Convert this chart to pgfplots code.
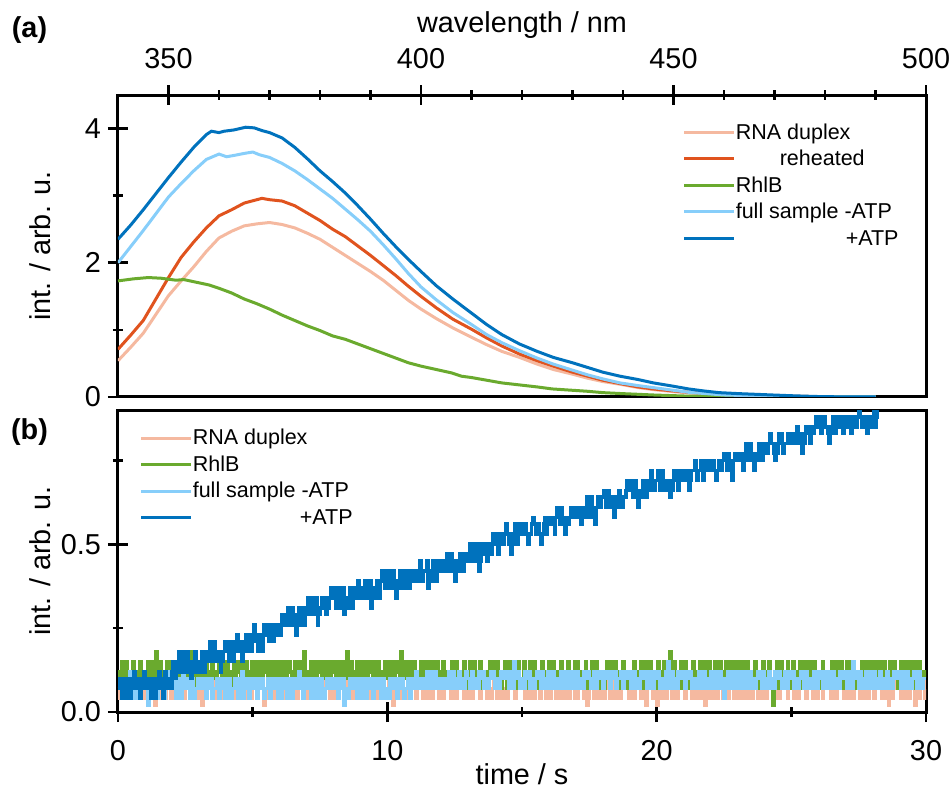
\documentclass[border=0pt]{standalone}
\usepackage{fontspec}
\setmainfont{Liberation Sans}
\usepackage{pgfplots}
\usepackage{pgfplotstable}
\pgfplotsset{compat=1.18}
\definecolor{cpink}{RGB}{245,185,160}
\definecolor{cred}{RGB}{224,83,30}
\definecolor{cgreen}{RGB}{106,170,46}
\definecolor{clblue}{RGB}{135,206,250}
\definecolor{cdblue}{RGB}{0,114,189}
\newcommand{\lblfont}{\fontsize{14.4}{17}\selectfont}
\newcommand{\legfont}{\fontsize{10.75}{12}\selectfont}
\pgfplotsset{
  panel/.style={
    scale only axis, width=404pt, height=151pt,
    axis line style={line width=1.5pt},
    tick align=center, major tick length=10pt, minor tick length=5pt,
    tick style={black, line width=1.3pt},
    /pgf/number format/assume math mode=true,
    tick label style={font=\lblfont},
    label style={font=\lblfont},
    legend style={draw=none, fill=none, font=\legfont, anchor=north west,
       row sep=0pt, inner sep=0pt, outer sep=0pt,
       nodes={inner sep=0pt, text height=10pt, text depth=3.25pt},
       /tikz/every even column/.append style={column sep=2.5pt}},
    legend cell align=left,
    legend image code/.code={\draw[##1, line width=1.5pt] (0pt,0pt) -- (25pt,0pt);},
    every axis plot/.append style={line width=1.5pt},
  },
}
\pgfplotstableread{
t p g l d
0.00 0.07 0.12 0.07 0.07
0.05 0.04 0.07 0.10 0.10
0.10 0.10 0.10 0.10 0.10
0.15 0.07 0.15 0.04 0.04
0.20 0.07 0.12 0.07 0.07
0.25 0.10 0.10 0.10 0.10
0.30 0.07 0.15 0.04 0.04
0.35 0.04 0.12 0.07 0.07
0.40 0.04 0.10 0.07 0.10
0.45 0.07 0.07 0.12 0.04
0.50 0.10 0.12 0.10 0.07
0.55 0.04 0.15 0.04 0.10
0.60 0.07 0.12 0.07 0.12
0.65 0.10 0.07 0.10 0.07
0.70 0.10 0.10 0.07 0.07
0.75 0.04 0.12 0.04 0.10
0.80 0.07 0.15 0.10 0.04
0.85 0.10 0.10 0.07 0.07
0.90 0.07 0.12 0.07 0.10
0.95 0.04 0.07 0.10 0.12
1.00 0.10 0.12 0.07 0.07
1.05 0.04 0.07 0.10 0.10
1.10 0.07 0.15 0.02 0.10
1.15 0.10 0.10 0.07 0.07
1.20 0.04 0.10 0.10 0.04
1.25 0.07 0.15 0.04 0.10
1.30 0.07 0.12 0.07 0.07
1.35 0.02 0.07 0.10 0.04
1.40 0.10 0.18 0.07 0.10
1.45 0.07 0.10 0.04 0.07
1.50 0.10 0.12 0.10 0.12
1.55 0.04 0.15 0.07 0.10
1.60 0.07 0.10 0.07 0.07
1.65 0.10 0.07 0.10 0.04
1.70 0.07 0.12 0.04 0.10
1.75 0.04 0.10 0.07 0.12
1.80 0.12 0.15 0.07 0.07
1.85 0.07 0.07 0.12 0.10
1.90 0.07 0.12 0.10 0.10
1.95 0.04 0.15 0.07 0.07
2.00 0.07 0.10 0.07 0.12
2.05 0.04 0.15 0.10 0.15
2.10 0.10 0.12 0.10 0.10
2.15 0.07 0.07 0.04 0.12
2.20 0.07 0.12 0.07 0.15
2.25 0.10 0.10 0.10 0.18
2.30 0.04 0.15 0.07 0.12
2.35 0.07 0.10 0.04 0.15
2.40 0.07 0.12 0.12 0.18
2.45 0.04 0.15 0.07 0.12
2.50 0.10 0.10 0.07 0.15
2.55 0.07 0.07 0.10 0.18
2.60 0.07 0.12 0.10 0.12
2.65 0.04 0.15 0.04 0.15
2.70 0.07 0.18 0.07 0.10
2.75 0.10 0.10 0.10 0.12
2.80 0.10 0.12 0.04 0.15
2.85 0.07 0.07 0.07 0.18
2.90 0.10 0.12 0.07 0.12
2.95 0.04 0.15 0.10 0.15
3.00 0.07 0.15 0.10 0.15
3.05 0.04 0.10 0.07 0.12
3.10 0.02 0.12 0.07 0.18
3.15 0.07 0.07 0.10 0.15
3.20 0.07 0.10 0.07 0.12
3.25 0.04 0.15 0.04 0.18
3.30 0.10 0.12 0.10 0.15
3.35 0.07 0.07 0.07 0.18
3.40 0.07 0.12 0.07 0.21
3.45 0.10 0.10 0.10 0.15
3.50 0.07 0.15 0.04 0.18
3.55 0.04 0.12 0.07 0.21
3.60 0.10 0.10 0.07 0.15
3.65 0.07 0.07 0.10 0.18
3.70 0.07 0.12 0.10 0.18
3.75 0.04 0.15 0.04 0.15
3.80 0.04 0.12 0.07 0.12
3.85 0.10 0.10 0.10 0.15
3.90 0.07 0.15 0.07 0.18
3.95 0.04 0.10 0.04 0.21
4.00 0.10 0.12 0.07 0.18
4.05 0.04 0.15 0.10 0.21
4.10 0.07 0.10 0.10 0.15
4.15 0.10 0.07 0.04 0.18
4.20 0.07 0.12 0.04 0.21
4.25 0.04 0.10 0.07 0.15
4.30 0.10 0.15 0.07 0.18
4.35 0.07 0.10 0.10 0.21
4.40 0.10 0.12 0.07 0.23
4.45 0.04 0.15 0.04 0.18
4.50 0.07 0.12 0.10 0.18
4.55 0.10 0.07 0.07 0.21
4.60 0.04 0.18 0.12 0.15
4.65 0.07 0.10 0.04 0.18
4.70 0.07 0.12 0.07 0.21
4.75 0.04 0.15 0.10 0.23
4.80 0.07 0.10 0.07 0.18
4.85 0.10 0.07 0.04 0.21
4.90 0.10 0.12 0.10 0.23
4.95 0.04 0.15 0.07 0.18
5.00 0.07 0.12 0.07 0.21
5.05 0.10 0.07 0.10 0.26
5.10 0.07 0.15 0.07 0.23
5.15 0.04 0.10 0.04 0.21
5.20 0.10 0.12 0.10 0.18
5.25 0.07 0.15 0.07 0.23
5.30 0.07 0.10 0.07 0.21
5.35 0.10 0.07 0.10 0.18
5.40 0.02 0.12 0.04 0.26
5.45 0.07 0.15 0.07 0.23
5.50 0.07 0.12 0.07 0.23
5.55 0.04 0.10 0.10 0.26
5.60 0.10 0.15 0.10 0.21
5.65 0.07 0.07 0.04 0.23
5.70 0.07 0.12 0.10 0.26
5.75 0.04 0.15 0.07 0.21
5.80 0.07 0.07 0.07 0.23
5.85 0.10 0.10 0.10 0.26
5.90 0.07 0.12 0.07 0.26
5.95 0.04 0.15 0.04 0.23
6.00 0.10 0.10 0.10 0.23
6.05 0.04 0.15 0.04 0.26
6.10 0.07 0.12 0.07 0.29
6.15 0.10 0.07 0.10 0.26
6.20 0.04 0.15 0.07 0.26
6.25 0.07 0.10 0.04 0.29
6.30 0.07 0.12 0.04 0.31
6.35 0.04 0.15 0.10 0.26
6.40 0.07 0.12 0.07 0.26
6.45 0.10 0.07 0.04 0.31
6.50 0.10 0.10 0.10 0.29
6.55 0.07 0.15 0.07 0.26
6.60 0.10 0.12 0.07 0.23
6.65 0.04 0.07 0.10 0.29
6.70 0.07 0.15 0.12 0.31
6.75 0.10 0.10 0.07 0.26
6.80 0.07 0.12 0.10 0.29
6.85 0.04 0.15 0.04 0.31
6.90 0.04 0.18 0.07 0.26
6.95 0.07 0.10 0.10 0.29
7.00 0.07 0.12 0.07 0.31
7.05 0.04 0.07 0.10 0.34
7.10 0.10 0.12 0.10 0.29
7.15 0.07 0.15 0.04 0.31
7.20 0.07 0.10 0.07 0.34
7.25 0.10 0.07 0.10 0.29
7.30 0.07 0.15 0.07 0.31
7.35 0.04 0.10 0.04 0.34
7.40 0.10 0.12 0.10 0.26
7.45 0.07 0.15 0.07 0.29
7.50 0.07 0.12 0.04 0.31
7.55 0.10 0.07 0.10 0.34
7.60 0.07 0.10 0.07 0.34
7.65 0.04 0.15 0.04 0.31
7.70 0.12 0.12 0.07 0.29
7.75 0.07 0.07 0.10 0.34
7.80 0.07 0.15 0.10 0.31
7.85 0.04 0.10 0.07 0.34
7.90 0.07 0.12 0.07 0.37
7.95 0.10 0.15 0.10 0.34
8.00 0.04 0.12 0.07 0.34
8.05 0.07 0.15 0.10 0.37
8.10 0.07 0.10 0.07 0.31
8.15 0.04 0.07 0.04 0.34
8.20 0.10 0.12 0.10 0.37
8.25 0.07 0.15 0.07 0.31
8.30 0.07 0.12 0.07 0.34
8.35 0.10 0.07 0.10 0.37
8.40 0.07 0.15 0.02 0.29
8.45 0.04 0.10 0.07 0.34
8.50 0.07 0.18 0.07 0.34
8.55 0.10 0.10 0.04 0.31
8.60 0.10 0.12 0.10 0.37
8.65 0.07 0.15 0.07 0.34
8.70 0.04 0.10 0.07 0.31
8.75 0.10 0.07 0.10 0.37
8.80 0.07 0.12 0.07 0.34
8.85 0.04 0.15 0.04 0.37
8.90 0.10 0.12 0.10 0.39
8.95 0.07 0.07 0.07 0.34
9.00 0.07 0.15 0.10 0.37
9.05 0.04 0.10 0.04 0.34
9.10 0.07 0.12 0.07 0.34
9.15 0.10 0.15 0.10 0.39
9.20 0.10 0.10 0.04 0.39
9.25 0.07 0.07 0.07 0.34
9.30 0.07 0.12 0.07 0.37
9.35 0.04 0.15 0.10 0.39
9.40 0.04 0.12 0.07 0.31
9.45 0.07 0.10 0.04 0.37
9.50 0.07 0.15 0.10 0.37
9.55 0.10 0.07 0.07 0.34
9.60 0.07 0.12 0.07 0.39
9.65 0.04 0.15 0.10 0.37
9.70 0.10 0.07 0.10 0.34
9.75 0.07 0.10 0.04 0.39
9.80 0.07 0.12 0.07 0.42
9.85 0.10 0.07 0.10 0.39
9.90 0.07 0.15 0.07 0.37
9.95 0.04 0.10 0.04 0.42
10.00 0.07 0.12 0.07 0.39
10.05 0.10 0.15 0.04 0.42
10.10 0.04 0.10 0.10 0.37
10.15 0.07 0.07 0.07 0.39
10.20 0.02 0.15 0.07 0.42
10.25 0.04 0.10 0.10 0.37
10.30 0.07 0.12 0.07 0.34
10.35 0.10 0.15 0.04 0.39
10.40 0.10 0.12 0.10 0.39
10.45 0.04 0.07 0.07 0.42
10.50 0.07 0.18 0.07 0.37
10.55 0.10 0.10 0.10 0.39
10.60 0.07 0.12 0.04 0.42
10.65 0.04 0.15 0.07 0.37
10.70 0.04 0.10 0.07 0.39
10.75 0.07 0.07 0.10 0.42
10.80 0.07 0.12 0.10 0.37
10.85 0.04 0.15 0.04 0.39
10.90 0.10 0.12 0.07 0.42
10.95 0.07 0.10 0.10 0.39
11.00 0.07 0.15 0.07 0.39
11.05 0.04 0.10 0.12 0.42
11.10 0.07 0.12 0.10 0.42
11.15 0.10 0.07 0.07 0.39
11.20 0.10 0.12 0.07 0.45
11.25 0.07 0.15 0.10 0.42
11.30 0.04 0.10 0.10 0.39
11.35 0.10 0.07 0.07 0.42
11.40 0.07 0.15 0.10 0.42
11.45 0.04 0.10 0.12 0.45
11.50 0.07 0.12 0.07 0.37
11.55 0.10 0.15 0.10 0.42
11.60 0.07 0.12 0.12 0.42
11.65 0.04 0.07 0.07 0.39
11.70 0.10 0.15 0.10 0.45
11.75 0.07 0.10 0.12 0.42
11.80 0.07 0.10 0.07 0.39
11.85 0.10 0.15 0.10 0.45
11.90 0.04 0.12 0.10 0.42
11.95 0.07 0.07 0.07 0.45
12.00 0.07 0.12 0.10 0.45
12.05 0.04 0.15 0.07 0.42
12.10 0.10 0.10 0.07 0.42
12.15 0.07 0.12 0.10 0.45
12.20 0.07 0.07 0.10 0.47
12.25 0.10 0.10 0.07 0.45
12.30 0.07 0.12 0.12 0.42
12.35 0.04 0.07 0.10 0.47
12.40 0.04 0.15 0.07 0.45
12.45 0.10 0.12 0.12 0.42
12.50 0.07 0.10 0.10 0.39
12.55 0.04 0.15 0.07 0.45
12.60 0.10 0.12 0.10 0.45
12.65 0.07 0.07 0.12 0.42
12.70 0.07 0.10 0.07 0.47
12.75 0.10 0.12 0.10 0.45
12.80 0.07 0.07 0.10 0.42
12.85 0.04 0.15 0.07 0.47
12.90 0.07 0.12 0.12 0.45
12.95 0.10 0.07 0.10 0.47
13.00 0.04 0.10 0.10 0.47
13.05 0.07 0.15 0.07 0.50
13.10 0.07 0.12 0.10 0.45
13.15 0.04 0.07 0.12 0.47
13.20 0.10 0.15 0.07 0.50
13.25 0.07 0.10 0.10 0.45
13.30 0.07 0.10 0.10 0.47
13.35 0.10 0.12 0.07 0.50
13.40 0.07 0.07 0.12 0.42
13.45 0.04 0.15 0.10 0.45
13.50 0.10 0.12 0.10 0.47
13.55 0.07 0.07 0.12 0.50
13.60 0.07 0.10 0.07 0.50
13.65 0.10 0.12 0.10 0.47
13.70 0.04 0.12 0.10 0.45
13.75 0.07 0.07 0.07 0.50
13.80 0.07 0.15 0.10 0.50
13.85 0.04 0.12 0.12 0.47
13.90 0.07 0.10 0.12 0.53
13.95 0.10 0.15 0.10 0.50
14.00 0.10 0.12 0.07 0.50
14.05 0.04 0.15 0.10 0.53
14.10 0.07 0.10 0.10 0.47
14.15 0.10 0.12 0.07 0.50
14.20 0.07 0.07 0.12 0.53
14.25 0.04 0.10 0.10 0.50
14.30 0.04 0.10 0.10 0.50
14.35 0.07 0.15 0.12 0.53
14.40 0.07 0.12 0.10 0.56
14.45 0.04 0.07 0.10 0.53
14.50 0.10 0.15 0.07 0.50
14.55 0.07 0.10 0.12 0.53
14.60 0.07 0.10 0.10 0.47
14.65 0.10 0.15 0.07 0.50
14.70 0.07 0.10 0.15 0.53
14.75 0.04 0.07 0.10 0.56
14.80 0.10 0.12 0.10 0.50
14.85 0.07 0.15 0.12 0.53
14.90 0.07 0.07 0.07 0.56
14.95 0.10 0.10 0.10 0.53
15.00 0.07 0.10 0.10 0.53
15.05 0.10 0.15 0.07 0.56
15.10 0.04 0.12 0.12 0.56
15.15 0.07 0.07 0.10 0.53
15.20 0.07 0.10 0.10 0.50
15.25 0.04 0.12 0.12 0.53
15.30 0.07 0.15 0.07 0.53
15.35 0.10 0.10 0.10 0.56
15.40 0.10 0.12 0.10 0.58
15.45 0.04 0.15 0.07 0.56
15.50 0.07 0.07 0.10 0.53
15.55 0.10 0.12 0.12 0.56
15.60 0.07 0.10 0.12 0.56
15.65 0.04 0.07 0.10 0.53
15.70 0.10 0.12 0.07 0.50
15.75 0.07 0.15 0.12 0.53
15.80 0.07 0.10 0.10 0.56
15.85 0.10 0.07 0.07 0.58
15.90 0.04 0.12 0.10 0.53
15.95 0.07 0.10 0.12 0.56
16.00 0.07 0.15 0.12 0.56
16.05 0.04 0.07 0.07 0.58
16.10 0.07 0.10 0.10 0.58
16.15 0.10 0.15 0.12 0.56
16.20 0.10 0.12 0.07 0.53
16.25 0.04 0.07 0.10 0.58
16.30 0.07 0.10 0.10 0.61
16.35 0.10 0.12 0.07 0.58
16.40 0.04 0.07 0.10 0.56
16.45 0.07 0.15 0.12 0.61
16.50 0.07 0.12 0.12 0.58
16.55 0.04 0.07 0.07 0.56
16.60 0.07 0.10 0.10 0.53
16.65 0.10 0.12 0.12 0.58
16.70 0.10 0.15 0.10 0.56
16.75 0.04 0.07 0.07 0.58
16.80 0.10 0.12 0.07 0.61
16.85 0.07 0.10 0.12 0.58
16.90 0.07 0.10 0.10 0.58
16.95 0.04 0.15 0.07 0.61
17.00 0.07 0.10 0.10 0.58
17.05 0.04 0.15 0.12 0.61
17.10 0.10 0.12 0.07 0.61
17.15 0.07 0.07 0.10 0.58
17.20 0.07 0.07 0.10 0.56
17.25 0.10 0.12 0.07 0.61
17.30 0.04 0.10 0.12 0.61
17.35 0.07 0.15 0.10 0.58
17.40 0.02 0.12 0.10 0.64
17.45 0.04 0.07 0.12 0.61
17.50 0.07 0.10 0.10 0.58
17.55 0.10 0.12 0.07 0.64
17.60 0.07 0.15 0.07 0.61
17.65 0.04 0.07 0.12 0.58
17.70 0.10 0.10 0.10 0.56
17.75 0.07 0.15 0.07 0.61
17.80 0.07 0.12 0.12 0.64
17.85 0.04 0.10 0.10 0.61
17.90 0.07 0.07 0.10 0.61
17.95 0.10 0.12 0.12 0.64
18.00 0.10 0.12 0.07 0.64
18.05 0.04 0.07 0.10 0.66
18.10 0.07 0.10 0.10 0.61
18.15 0.10 0.15 0.12 0.64
18.20 0.07 0.10 0.10 0.66
18.25 0.04 0.07 0.07 0.64
18.30 0.07 0.15 0.12 0.61
18.35 0.10 0.10 0.10 0.64
18.40 0.07 0.12 0.10 0.58
18.45 0.04 0.15 0.12 0.61
18.50 0.04 0.07 0.07 0.64
18.55 0.07 0.12 0.10 0.61
18.60 0.07 0.10 0.10 0.66
18.65 0.04 0.07 0.12 0.64
18.70 0.10 0.12 0.10 0.61
18.75 0.07 0.15 0.07 0.64
18.80 0.07 0.10 0.12 0.64
18.85 0.10 0.07 0.10 0.66
18.90 0.07 0.10 0.10 0.69
18.95 0.04 0.12 0.12 0.66
19.00 0.07 0.12 0.10 0.66
19.05 0.10 0.07 0.07 0.69
19.10 0.07 0.07 0.10 0.64
19.15 0.04 0.15 0.12 0.66
19.20 0.10 0.10 0.07 0.69
19.25 0.07 0.07 0.10 0.64
19.30 0.07 0.12 0.10 0.61
19.35 0.10 0.10 0.07 0.66
19.40 0.04 0.15 0.12 0.66
19.45 0.07 0.07 0.10 0.64
19.50 0.07 0.10 0.10 0.69
19.55 0.04 0.15 0.12 0.66
19.60 0.02 0.12 0.10 0.64
19.65 0.07 0.07 0.07 0.69
19.70 0.15 0.10 0.07 0.66
19.75 0.10 0.15 0.12 0.69
19.80 0.10 0.07 0.10 0.72
19.85 0.04 0.10 0.07 0.69
19.90 0.07 0.12 0.12 0.66
19.95 0.10 0.07 0.10 0.69
20.00 0.02 0.10 0.10 0.69
20.05 0.07 0.15 0.12 0.72
20.10 0.07 0.12 0.07 0.66
20.15 0.04 0.07 0.10 0.69
20.20 0.07 0.10 0.10 0.72
20.25 0.10 0.15 0.07 0.69
20.30 0.10 0.07 0.10 0.66
20.35 0.04 0.12 0.12 0.69
20.40 0.07 0.12 0.15 0.69
20.45 0.10 0.07 0.07 0.66
20.50 0.07 0.18 0.10 0.64
20.55 0.04 0.12 0.12 0.66
20.60 0.04 0.10 0.07 0.69
20.65 0.07 0.15 0.10 0.72
20.70 0.07 0.12 0.10 0.72
20.75 0.04 0.07 0.07 0.69
20.80 0.10 0.10 0.12 0.66
20.85 0.07 0.12 0.10 0.72
20.90 0.07 0.15 0.10 0.69
20.95 0.10 0.07 0.12 0.72
21.00 0.07 0.10 0.10 0.72
21.05 0.04 0.15 0.07 0.69
21.10 0.10 0.07 0.12 0.69
21.15 0.07 0.12 0.10 0.72
21.20 0.07 0.12 0.10 0.66
21.25 0.10 0.07 0.12 0.69
21.30 0.04 0.10 0.07 0.72
21.35 0.07 0.15 0.10 0.72
21.40 0.07 0.12 0.10 0.75
21.45 0.04 0.07 0.07 0.72
21.50 0.07 0.10 0.10 0.69
21.55 0.10 0.12 0.12 0.72
21.60 0.10 0.15 0.12 0.72
21.65 0.04 0.10 0.07 0.75
21.70 0.07 0.07 0.10 0.69
21.75 0.10 0.15 0.12 0.72
21.80 0.02 0.10 0.07 0.75
21.85 0.07 0.07 0.10 0.72
21.90 0.07 0.12 0.10 0.72
21.95 0.04 0.15 0.07 0.75
22.00 0.07 0.12 0.12 0.72
22.05 0.04 0.07 0.07 0.75
22.10 0.07 0.10 0.10 0.75
22.15 0.10 0.15 0.12 0.72
22.20 0.10 0.10 0.10 0.69
22.25 0.04 0.07 0.07 0.72
22.30 0.07 0.07 0.07 0.75
22.35 0.10 0.15 0.12 0.72
22.40 0.07 0.12 0.10 0.72
22.45 0.04 0.07 0.10 0.75
22.50 0.04 0.10 0.04 0.77
22.55 0.10 0.15 0.07 0.75
22.60 0.07 0.12 0.10 0.72
22.65 0.04 0.07 0.12 0.77
22.70 0.10 0.15 0.12 0.75
22.75 0.07 0.12 0.07 0.72
22.80 0.07 0.10 0.10 0.69
22.85 0.04 0.15 0.12 0.75
22.90 0.07 0.07 0.10 0.77
22.95 0.10 0.10 0.07 0.75
23.00 0.10 0.10 0.07 0.75
23.05 0.04 0.15 0.12 0.77
23.10 0.07 0.12 0.10 0.77
23.15 0.10 0.07 0.07 0.75
23.20 0.04 0.15 0.10 0.72
23.25 0.07 0.12 0.12 0.77
23.30 0.07 0.10 0.12 0.80
23.35 0.04 0.15 0.07 0.77
23.40 0.07 0.07 0.10 0.75
23.45 0.10 0.10 0.12 0.80
23.50 0.10 0.12 0.07 0.77
23.55 0.04 0.07 0.10 0.75
23.60 0.07 0.10 0.10 0.72
23.65 0.10 0.15 0.07 0.77
23.70 0.07 0.07 0.10 0.77
23.75 0.04 0.10 0.12 0.75
23.80 0.04 0.12 0.12 0.80
23.85 0.10 0.07 0.10 0.77
23.90 0.07 0.10 0.07 0.75
23.95 0.04 0.15 0.12 0.80
24.00 0.07 0.12 0.10 0.80
24.05 0.04 0.07 0.07 0.77
24.10 0.10 0.10 0.10 0.77
24.15 0.07 0.15 0.12 0.80
24.20 0.07 0.07 0.07 0.83
24.25 0.10 0.10 0.10 0.80
24.30 0.07 0.02 0.10 0.80
24.35 0.04 0.07 0.07 0.77
24.40 0.04 0.10 0.12 0.75
24.45 0.10 0.15 0.10 0.77
24.50 0.07 0.12 0.10 0.80
24.55 0.04 0.07 0.12 0.83
24.60 0.10 0.15 0.10 0.83
24.65 0.07 0.12 0.07 0.80
24.70 0.07 0.10 0.07 0.77
24.75 0.10 0.07 0.12 0.80
24.80 0.07 0.12 0.10 0.80
24.85 0.04 0.15 0.07 0.83
24.90 0.10 0.10 0.12 0.83
24.95 0.07 0.07 0.10 0.80
25.00 0.07 0.10 0.10 0.80
25.05 0.10 0.15 0.12 0.83
25.10 0.04 0.12 0.07 0.83
25.15 0.07 0.07 0.10 0.80
25.20 0.07 0.10 0.10 0.85
25.25 0.04 0.12 0.07 0.83
25.30 0.10 0.15 0.10 0.80
25.35 0.07 0.10 0.12 0.83
25.40 0.07 0.07 0.12 0.77
25.45 0.10 0.15 0.07 0.80
25.50 0.07 0.10 0.10 0.83
25.55 0.04 0.07 0.12 0.85
25.60 0.10 0.12 0.07 0.85
25.65 0.07 0.15 0.10 0.83
25.70 0.07 0.10 0.10 0.80
25.75 0.10 0.07 0.07 0.85
25.80 0.04 0.07 0.10 0.83
25.85 0.07 0.15 0.12 0.85
25.90 0.07 0.12 0.12 0.88
25.95 0.04 0.10 0.07 0.85
26.00 0.07 0.12 0.10 0.85
26.05 0.10 0.07 0.12 0.88
26.10 0.07 0.10 0.10 0.83
26.15 0.04 0.15 0.07 0.85
26.20 0.10 0.07 0.12 0.88
26.25 0.07 0.10 0.10 0.85
26.30 0.07 0.12 0.07 0.85
26.35 0.10 0.07 0.12 0.83
26.40 0.07 0.10 0.10 0.80
26.45 0.04 0.12 0.07 0.83
26.50 0.04 0.15 0.10 0.85
26.55 0.10 0.07 0.12 0.88
26.60 0.07 0.10 0.07 0.83
26.65 0.04 0.15 0.10 0.85
26.70 0.10 0.12 0.10 0.88
26.75 0.07 0.07 0.07 0.85
26.80 0.07 0.07 0.12 0.85
26.85 0.10 0.15 0.10 0.88
26.90 0.07 0.10 0.10 0.83
26.95 0.04 0.07 0.12 0.85
27.00 0.10 0.10 0.10 0.88
27.05 0.04 0.15 0.07 0.85
27.10 0.07 0.12 0.12 0.85
27.15 0.10 0.07 0.10 0.88
27.20 0.07 0.10 0.10 0.83
27.25 0.04 0.15 0.07 0.85
27.30 0.04 0.07 0.15 0.88
27.35 0.07 0.10 0.10 0.85
27.40 0.07 0.12 0.10 0.85
27.45 0.10 0.07 0.12 0.88
27.50 0.10 0.10 0.07 0.91
27.55 0.04 0.12 0.12 0.88
27.60 0.07 0.15 0.10 0.85
27.65 0.10 0.07 0.07 0.88
27.70 0.04 0.10 0.10 0.88
27.75 0.07 0.15 0.12 0.85
27.80 0.07 0.12 0.12 0.83
27.85 0.04 0.10 0.07 0.88
27.90 0.07 0.07 0.10 0.88
27.95 0.10 0.15 0.12 0.85
28.00 0.07 0.12 0.07 0.88
28.05 0.04 0.15 0.12 0.91
28.10 0.10 0.10 0.10 0.85
28.15 0.07 0.07 0.07 0.88
28.20 0.07 0.07 0.10 0.91
28.25 0.10 0.15 0.07 nan
28.30 0.07 0.12 0.12 nan
28.35 0.04 0.07 0.10 nan
28.40 0.04 0.10 0.10 nan
28.45 0.10 0.15 0.07 nan
28.50 0.07 0.12 0.10 nan
28.55 0.04 0.10 0.12 nan
28.60 0.02 0.07 0.07 nan
28.65 0.07 0.15 0.10 nan
28.70 0.07 0.10 0.10 nan
28.75 0.04 0.07 0.07 nan
28.80 0.10 0.15 0.12 nan
28.85 0.07 0.12 0.10 nan
28.90 0.07 0.10 0.10 nan
28.95 0.10 0.07 0.12 nan
29.00 0.07 0.10 0.10 nan
29.05 0.04 0.15 0.07 nan
29.10 0.07 0.12 0.07 nan
29.15 0.10 0.07 0.12 nan
29.20 0.04 0.07 0.10 nan
29.25 0.07 0.15 0.07 nan
29.30 0.07 0.10 0.12 nan
29.35 0.04 0.07 0.10 nan
29.40 0.10 0.12 0.10 nan
29.45 0.07 0.15 0.07 nan
29.50 0.07 0.10 0.10 nan
29.55 0.10 0.07 0.12 nan
29.60 0.02 0.15 0.12 nan
29.65 0.07 0.12 0.07 nan
29.70 0.07 0.07 0.07 nan
29.75 0.04 0.15 0.12 nan
29.80 0.07 0.10 0.10 nan
29.85 0.10 0.07 0.07 nan
29.90 0.10 0.12 0.10 nan
29.95 0.04 0.12 0.10 nan
30.00 0.07 0.10 0.10 nan
}\kinetics
\begin{document}
\begin{tikzpicture}
% ---------------- panel (a) ----------------
\begin{axis}[panel, at={(0,157.5pt)}, anchor=south west,
  xmin=340, xmax=500, ymin=0, ymax=4.5,
  xtick={350,400,450,500},
  minor xtick={360,370,380,390,410,420,430,440,460,470,480,490},
  xtick pos=right, xticklabel pos=right,
  xticklabel style={yshift=4.5pt},
  ytick={0,2,4}, minor ytick={1,3}, ytick pos=left,
  xlabel={wavelength / nm}, ylabel={int. / arb. u.},
  xlabel style={at={(axis description cs:0.5,1)}, anchor=center, yshift=34.8pt},
  ylabel style={at={(axis description cs:-0.0965,0.5)}, anchor=center},
  legend style={at={(axis description cs:0.699,0.92)}},
]
\addplot[cpink] coordinates {
(340,0.54) (342.5,0.74) (345,0.95) (347.5,1.23) (350,1.51) (352.5,1.73) (355,1.94)
(357.5,2.17) (360,2.37) (362.5,2.47) (365,2.55) (367.5,2.58) (370,2.60) (372.5,2.57)
(375,2.52) (377.5,2.44) (380,2.35) (382.5,2.23) (385,2.11) (387.5,1.99) (390,1.87)
(392.5,1.74) (395,1.59) (397.5,1.44) (400,1.31) (403,1.17) (406.3,1.03) (410,0.89)
(413,0.78) (416,0.68) (419.5,0.59) (423,0.49) (426.2,0.41) (430,0.34) (433,0.28)
(436,0.23) (439.4,0.19) (443,0.14) (446,0.11) (450,0.08) (453,0.06) (460,0.035)
(470,0.012) (480,0.003) (490,0)};
\addlegendentry{RNA duplex}
\addplot[cred] coordinates {
(340,0.71) (342.5,0.92) (345,1.14) (347.5,1.46) (350,1.78) (352.5,2.08) (355,2.31)
(357.5,2.52) (360,2.70) (362.5,2.79) (365,2.89) (367.5,2.94) (368.5,2.96) (370,2.94)
(372.5,2.92) (375,2.85) (377.5,2.74) (380,2.63) (382.5,2.50) (385,2.39) (387.5,2.25)
(390,2.11) (392.5,1.96) (395,1.81) (397.5,1.65) (400,1.50) (403,1.33) (406.3,1.16)
(410,1.01) (413,0.88) (416,0.76) (419.5,0.64) (423,0.54) (426.2,0.46) (430,0.37)
(433,0.31) (436,0.25) (439.4,0.20) (443,0.15) (446,0.12) (450,0.09) (453,0.07)
(460,0.04) (470,0.015) (480,0.004) (490,0)};
\addlegendentry{\hspace*{22pt}reheated}
\addplot[cgreen] coordinates {
(340,1.73) (343,1.76) (346,1.78) (348.5,1.77) (351.5,1.74) (353,1.75) (355.5,1.71)
(358,1.67) (360,1.62) (362.5,1.55) (365,1.46) (367.5,1.39) (370,1.31) (372.5,1.22)
(375,1.14) (377.5,1.06) (380,0.99) (382.5,0.91) (385,0.86) (387.5,0.79) (390,0.72)
(392.5,0.65) (395,0.58) (397.5,0.51) (400,0.46) (403,0.41) (406,0.36) (408,0.31)
(410,0.29) (413,0.25) (416,0.21) (419.5,0.18) (423,0.15) (426,0.12) (430,0.10)
(433,0.085) (436,0.065) (440,0.05) (446,0.03) (452,0.015) (460,0.006) (470,0.002) (490,0)};
\addlegendentry{RhlB}
\addplot[clblue] coordinates {
(340,2.00) (342.5,2.24) (345,2.48) (347.5,2.73) (350,2.98) (352.5,3.18) (355,3.37)
(357.5,3.54) (360,3.62) (361.5,3.58) (363,3.60) (365,3.63) (366.7,3.65) (368,3.61)
(370,3.57) (372.5,3.48) (375,3.37) (377.5,3.24) (380,3.10) (382.5,2.96) (385,2.80)
(387.5,2.64) (390,2.47) (392.5,2.27) (395,2.06) (397.5,1.84) (400,1.64) (403,1.45)
(406.3,1.26) (410,1.08) (413,0.93) (416,0.81) (419.5,0.69) (423,0.58) (426.2,0.49)
(430,0.40) (433,0.33) (436,0.27) (439.4,0.21) (443,0.17) (446,0.14) (450,0.10)
(453,0.07) (460,0.03) (470,0.01) (480,0.002) (490,0)};
\addlegendentry{full sample -ATP}
\addplot[cdblue] coordinates {
(340,2.35) (342.5,2.56) (345,2.79) (347.5,3.03) (350,3.27) (352.5,3.50) (355,3.72)
(357.5,3.91) (358.5,3.96) (360,3.94) (361,3.96) (363,3.98) (365.3,4.02) (367,4.01)
(368.5,3.97) (370,3.94) (372.5,3.86) (375,3.72) (377.5,3.55) (380,3.37) (382.5,3.21)
(385,3.04) (387.5,2.85) (390,2.65) (392.5,2.44) (395,2.24) (397.5,2.05) (400,1.87)
(403,1.66) (406.3,1.46) (410,1.25) (413,1.08) (416,0.93) (419.5,0.79) (423,0.68)
(426.2,0.59) (430,0.51) (433,0.44) (436,0.37) (439.4,0.31) (443,0.26) (446,0.21)
(450,0.16) (453,0.12) (456,0.09) (459,0.065) (463,0.05) (468,0.035) (473,0.02)
(478,0.008) (485,0) (490,0)};
\addlegendentry{\hspace*{55pt}+ATP}
\end{axis}
% ---------------- panel (b) ----------------
\begin{axis}[panel, at={(0,0)}, anchor=south west,
  xmin=0, xmax=30, ymin=0, ymax=0.9,
  xtick={0,10,20,30}, minor xtick={5,15,25}, xtick pos=left,
  xticklabel style={yshift=-5.5pt},
  ytick={0,0.5}, minor ytick={0.25,0.75}, ytick pos=left,
  yticklabel style={/pgf/number format/.cd, fixed, fixed zerofill, precision=1},
  xlabel={time / s}, ylabel={int. / arb. u.},
  xlabel style={at={(axis description cs:0.5,0)}, anchor=center, yshift=-31pt},
  ylabel style={at={(axis description cs:-0.0965,0.5)}, anchor=center},
  legend style={at={(axis description cs:0.027,0.951)}},
]
\addplot[cpink, const plot, line width=1.8pt] table[x=t, y=p] {\kinetics};
\addlegendentry{RNA duplex}
\addplot[cgreen, const plot, line width=1.8pt] table[x=t, y=g] {\kinetics};
\addlegendentry{RhlB}
\addplot[clblue, const plot, line width=1.8pt] table[x=t, y=l] {\kinetics};
\addlegendentry{full sample -ATP}
\addplot[cdblue, const plot, line width=1.8pt] table[x=t, y=d] {\kinetics};
\addlegendentry{\hspace*{53.5pt}+ATP}
\end{axis}
\node[font=\bfseries\lblfont] at (-44.25pt,341pt) {(a)};
\node[font=\bfseries\lblfont] at (-44.25pt,139.75pt) {(b)};
\pgfresetboundingbox
\path[use as bounding box] (-59pt,-40pt) rectangle (416.5pt,356pt);
\end{tikzpicture}
\end{document}
